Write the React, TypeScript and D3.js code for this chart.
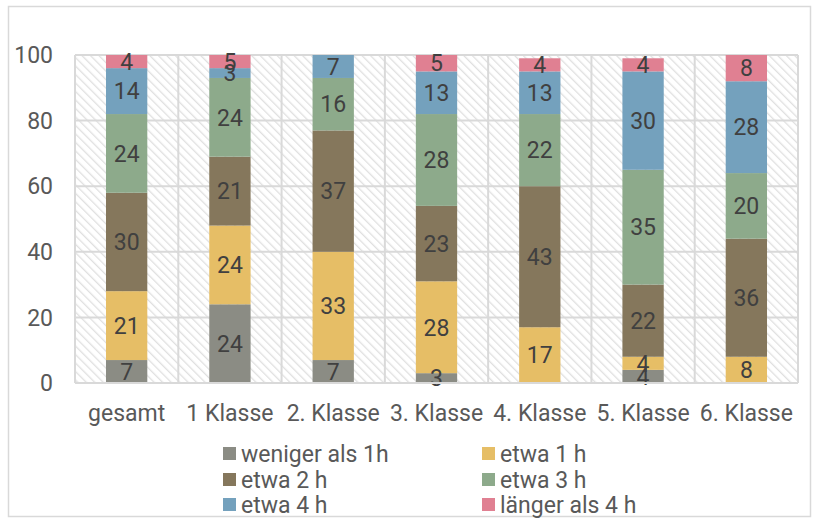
import React from "react";
import * as d3 from "d3";

const categories = ["gesamt", "1 Klasse", "2. Klasse", "3. Klasse", "4. Klasse", "5. Klasse", "6. Klasse"];
const seriesNames = ["weniger als 1h", "etwa 1 h", "etwa 2 h", "etwa 3 h", "etwa 4 h", "länger als 4 h"];
const seriesColors = ["#8B8C84", "#E6BE66", "#85775C", "#8DAA8B", "#74A1BD", "#E08092"];
const wenigerAls1h = [7, 24, 7, 3, 0, 4, 0];
const etwa1h = [21, 24, 33, 28, 17, 4, 8];
const etwa2h = [30, 21, 37, 23, 43, 22, 36];
const etwa3h = [24, 24, 16, 28, 22, 35, 20];
const etwa4h = [14, 3, 7, 13, 13, 30, 28];
const laenger4h = [4, 5, 0, 5, 4, 4, 8];
const yTicks = [0, 20, 40, 60, 80, 100];

const seriesValues = [wenigerAls1h, etwa1h, etwa2h, etwa3h, etwa4h, laenger4h];

const W = 818;
const H = 518;
const plot = { left: 75, right: 798, top: 55, bottom: 383 };
const FONT = "Roboto, 'Noto Sans', sans-serif";
const FS = 23;

export default function App() {
  const x = d3.scaleBand<string>().domain(categories).range([plot.left, plot.right]).paddingInner(0.6).paddingOuter(0.3);
  const xBand = d3.scaleBand<string>().domain(categories).range([plot.left, plot.right]);
  const y = d3.scaleLinear().domain([0, 100]).range([plot.bottom, plot.top]);

  const rows = categories.map((c, i) => {
    const r: any = { cat: c };
    seriesNames.forEach((s, j) => (r[s] = seriesValues[j][i]));
    return r;
  });
  const stacked = d3.stack<any>().keys(seriesNames)(rows);

  const legendCols = [223, 482];
  const legendRows = [453.5, 479.5, 504.5];

  return (
    <svg width={W} height={H} style={{ position: "absolute", left: 0, top: 0, background: "#fff" }} fontFamily={FONT}>
      <defs>
        <pattern id="hatch" patternUnits="userSpaceOnUse" width={6} height={6} patternTransform="rotate(-45)">
          <rect width={6} height={6} fill="#fff" />
          <line x1={0} y1={0} x2={0} y2={6} stroke="#e0e0e0" strokeWidth={2.6} />
        </pattern>
        <clipPath id="plotClip">
          <rect x={plot.left} y={plot.top} width={plot.right - plot.left} height={plot.bottom - plot.top} />
        </clipPath>
      </defs>
      <rect x={0} y={0} width={W} height={H} fill="#fff" />
      <rect x={8.5} y={6.5} width={802} height={510} fill="#fff" stroke="#d9d9d9" strokeWidth={1.5} />
      <rect x={plot.left} y={plot.top} width={plot.right - plot.left} height={plot.bottom - plot.top} fill="url(#hatch)" />
      {yTicks.map((t) => (
        <line key={"h" + t} x1={plot.left} x2={plot.right} y1={y(t)} y2={y(t)} stroke="#d9d9d9" strokeWidth={2} />
      ))}
      {categories.map((c) => (
        <line key={"v" + c} x1={xBand(c)!} x2={xBand(c)!} y1={plot.top} y2={plot.bottom} stroke="#d9d9d9" strokeWidth={2} />
      ))}
      <line x1={plot.right} x2={plot.right} y1={plot.top} y2={plot.bottom} stroke="#d9d9d9" strokeWidth={2} />
      <g clipPath="url(#plotClip)">
        {stacked.map((layer, j) =>
          layer.map((d, i) => {
            const v = seriesValues[j][i];
            if (!v) return null;
            return (
              <rect
                key={j + "-" + i}
                x={x(categories[i])!}
                width={x.bandwidth()}
                y={y(d[1])}
                height={y(d[0]) - y(d[1])}
                fill={seriesColors[j]}
              />
            );
          })
        )}
      </g>
      {stacked.map((layer, j) =>
        layer.map((d, i) => {
          const v = seriesValues[j][i];
          if (!v) return null;
          const top = Math.min(d[1], 100);
          const mid = (d[0] + top) / 2;
          return (
            <text
              key={"l" + j + "-" + i}
              x={x(categories[i])! + x.bandwidth() / 2}
              y={y(mid)}
              dy="0.36em"
              textAnchor="middle"
              fontSize={FS}
              fill="#404040"
            >
              {v}
            </text>
          );
        })
      )}
      <line x1={plot.left} x2={plot.right} y1={plot.bottom} y2={plot.bottom} stroke="#d9d9d9" strokeWidth={2} />
      {yTicks.map((t) => (
        <text key={"yt" + t} x={53} y={y(t)} dy="0.36em" textAnchor="end" fontSize={FS} fill="#595959">
          {t}
        </text>
      ))}
      {categories.map((c) => (
        <text key={"xt" + c} x={xBand(c)! + xBand.bandwidth() / 2} y={413} dy="0.36em" textAnchor="middle" fontSize={FS} fill="#595959">
          {c}
        </text>
      ))}
      {seriesNames.map((s, j) => {
        const col = j % 2;
        const row = Math.floor(j / 2);
        const lx = legendCols[col];
        const ly = legendRows[row];
        return (
          <g key={"lg" + s}>
            <rect x={lx} y={ly - 6.5} width={13} height={13} fill={seriesColors[j]} />
            <text x={lx + 18} y={ly} dy="0.36em" fontSize={FS} fill="#595959">
              {s}
            </text>
          </g>
        );
      })}
    </svg>
  );
}
